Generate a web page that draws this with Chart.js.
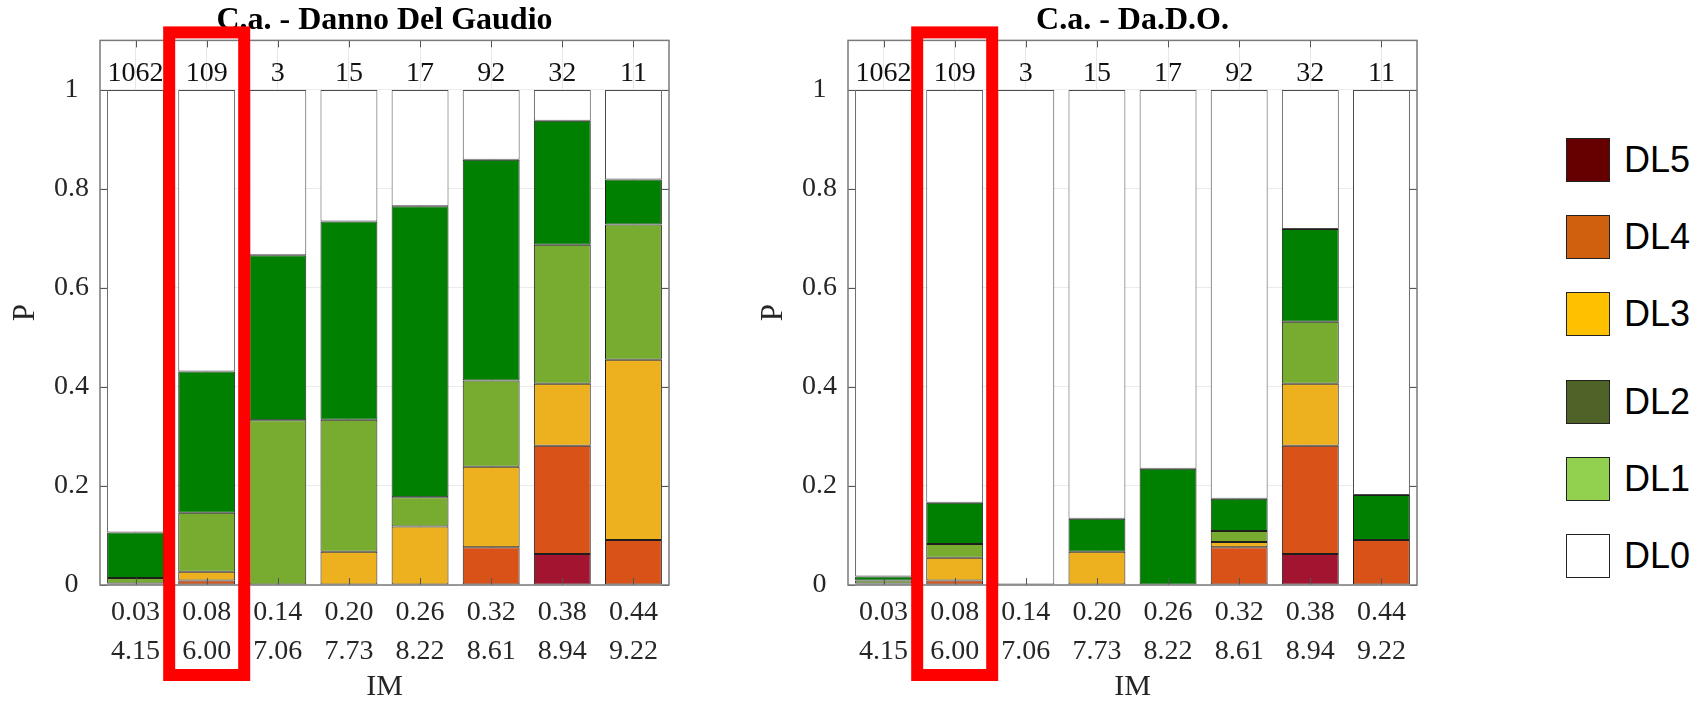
<!DOCTYPE html>
<html>
<head>
<meta charset="utf-8">
<title>C.a. damage level distributions</title>
<script src="https://cdn.jsdelivr.net/npm/chart.js@4.4.1/dist/chart.umd.min.js"></script>
<style>
  html, body { margin: 0; padding: 0; background: #fff; overflow: hidden; }
  body { width: 1699px; height: 702px; position: relative; }
  .panel { position: absolute; top: 0; }
  #legend {
    position: absolute; left: 1566px; top: 138px;
    display: flex; flex-direction: column; gap: 33px;
    font-family: "Liberation Sans", Arial, sans-serif; font-size: 36px; color: #000;
  }
  .item { display: flex; align-items: center; height: 44px; white-space: nowrap; }
  .item.gap { margin-top: 11px; }
  .swatch { width: 44px; height: 44px; box-sizing: border-box; border: 1.5px solid #222; margin-right: 14px; }
</style>
</head>
<body>
<canvas id="gaudio" class="panel" style="left:0px" width="720" height="702"></canvas>
<canvas id="dado" class="panel" style="left:748px" width="720" height="702"></canvas>
<div id="legend"></div>

<script>
// IM classes: PGA value (first line) and second intensity measure (second line)
const imPga    = ['0.03', '0.08', '0.14', '0.20', '0.26', '0.32', '0.38', '0.44'];
const imSecond = ['4.15', '6.00', '7.06', '7.73', '8.22', '8.61', '8.94', '9.22'];
// number of buildings in each IM class
const sampleCounts = [1062, 109, 3, 15, 17, 92, 32, 11];
const yTickValues = [0, 0.2, 0.4, 0.6, 0.8, 1];
const highlightIndex = 1;

// damage levels, listed from the bottom of each stack upwards
const damageLevels = ['DL5', 'DL4', 'DL3', 'DL2', 'DL1', 'DL0'];
const barColors    = ['#a2142f', '#d95319', '#edb120', '#77ac30', '#008000', '#ffffff'];
const legendColors = ['#660000', '#d0600e', '#ffc000', '#4f6228', '#92d050', '#ffffff'];

// Danno Del Gaudio: probability of each damage level per IM class
const gaudioDL5 = [0,     0,     0,     0,     0,     0,     0.0625, 0];
const gaudioDL4 = [0.001, 0.009, 0,     0,     0,     0.076, 0.219,  0.091];
const gaudioDL3 = [0.002, 0.018, 0,     0.067, 0.118, 0.163, 0.125,  0.364];
const gaudioDL2 = [0.011, 0.119, 0.333, 0.267, 0.059, 0.174, 0.281,  0.273];
const gaudioDL1 = [0.092, 0.285, 0.333, 0.400, 0.588, 0.446, 0.250,  0.091];
const gaudioDL0 = [0.894, 0.569, 0.334, 0.266, 0.235, 0.141, 0.0625, 0.181];

// Da.D.O.: probability of each damage level per IM class
const dadoDL5 = [0,     0,     0, 0,     0,     0,     0.0625, 0];
const dadoDL4 = [0.001, 0.009, 0, 0,     0,     0.076, 0.219,  0.091];
const dadoDL3 = [0.002, 0.046, 0, 0.067, 0,     0.011, 0.125,  0];
const dadoDL2 = [0.006, 0.028, 0, 0,     0,     0.022, 0.125,  0];
const dadoDL1 = [0.008, 0.083, 0, 0.067, 0.235, 0.065, 0.1875, 0.091];
const dadoDL0 = [0.983, 0.834, 1, 0.866, 0.765, 0.826, 0.281,  0.818];

const SERIF = '"Liberation Serif", "Times New Roman", serif';
const TEXT = '#262626';

// box around the axes with inward tick marks, drawn above the bars
const frameAndTicks = {
  id: 'frameAndTicks',
  afterDatasetsDraw(chart) {
    const { ctx, chartArea: a, scales: { x, y } } = chart;
    const len = 7;
    ctx.save();
    ctx.strokeStyle = '#555';
    ctx.lineWidth = 1;
    ctx.beginPath();
    y.ticks.forEach(t => {
      const py = Math.round(y.getPixelForValue(t.value)) + 0.5;
      ctx.moveTo(a.left, py); ctx.lineTo(a.left + len, py);
      ctx.moveTo(a.right, py); ctx.lineTo(a.right - len, py);
    });
    x.ticks.forEach((t, i) => {
      const px = Math.round(x.getPixelForValue(i)) + 0.5;
      ctx.moveTo(px, a.bottom); ctx.lineTo(px, a.bottom - len);
      ctx.moveTo(px, a.top); ctx.lineTo(px, a.top + len);
    });
    ctx.stroke();
    ctx.strokeStyle = '#7a7a7a';
    ctx.lineWidth = 1.5;
    ctx.strokeRect(a.left, a.top, a.right - a.left, a.bottom - a.top);
    ctx.restore();
  }
};

// building counts written above each column
const countLabels = {
  id: 'countLabels',
  afterDatasetsDraw(chart) {
    const { ctx, scales: { x, y } } = chart;
    ctx.save();
    ctx.font = '28px ' + SERIF;
    ctx.fillStyle = '#111';
    ctx.textAlign = 'center';
    ctx.textBaseline = 'middle';
    sampleCounts.forEach((n, i) => {
      ctx.fillText(String(n), x.getPixelForValue(i), y.getPixelForValue(1.033));
    });
    ctx.restore();
  }
};

// red frame around the highlighted IM class
const highlightFrame = {
  id: 'highlightFrame',
  afterDraw(chart) {
    const { ctx, chartArea: a, scales: { x } } = chart;
    const cx = x.getPixelForValue(highlightIndex);
    ctx.save();
    ctx.strokeStyle = '#ff0000';
    ctx.lineWidth = 12;
    ctx.strokeRect(cx - 37.5, a.top - 8, 75, a.bottom - a.top + 98);
    ctx.restore();
  }
};

function buildDatasets(series) {
  return damageLevels.map((name, k) => ({
    label: name,
    data: series[k].map(v => (v > 0 ? v : null)),
    backgroundColor: barColors[k],
    borderColor: k === 5 ? '#4a4a4a' : '#1e1e1e',
    borderWidth: 1,
    borderSkipped: false,
    barPercentage: 0.8,
    categoryPercentage: 1.0
  }));
}

function makeChart(id, title, series) {
  return new Chart(document.getElementById(id), {
    type: 'bar',
    data: {
      labels: imPga.map((p, i) => [p, imSecond[i]]),
      datasets: buildDatasets(series)
    },
    options: {
      responsive: false,
      animation: false,
      events: [],
      layout: { padding: { left: 0, right: 51, top: 0, bottom: 0 } },
      plugins: {
        legend: { display: false },
        tooltip: { enabled: false },
        title: {
          display: true,
          text: title,
          fullSize: false,
          color: '#000',
          font: { family: SERIF, size: 32, weight: 'bold', lineHeight: 1.2 },
          padding: { top: 2, bottom: 0 }
        }
      },
      scales: {
        x: {
          stacked: true,
          grid: { offset: false, color: '#e8e8e8', drawTicks: false },
          border: { display: false },
          ticks: {
            color: TEXT, autoSkip: false, maxRotation: 0, padding: 8,
            font: { family: SERIF, size: 28, lineHeight: 1.39 }
          },
          title: {
            display: true, text: 'IM', color: TEXT,
            font: { family: SERIF, size: 30, lineHeight: 1 },
            padding: { top: 0, bottom: 0 }
          },
          afterFit(scale) { scale.height = 117; }
        },
        y: {
          stacked: true,
          min: 0,
          max: 1.1,
          grid: { color: '#ebebeb', drawTicks: false },
          border: { display: false },
          afterBuildTicks(scale) { scale.ticks = yTickValues.map(v => ({ value: v })); },
          ticks: {
            color: TEXT, crossAlign: 'center', padding: 11,
            font: { family: SERIF, size: 28 },
            callback: v => String(Number(Number(v).toFixed(1)))
          },
          title: {
            display: true, text: 'P', color: TEXT,
            font: { family: SERIF, size: 31, lineHeight: 1.2 },
            padding: { top: 7, bottom: 0 }
          },
          afterFit(scale) { scale.width = 100; }
        }
      }
    },
    plugins: [frameAndTicks, countLabels, highlightFrame]
  });
}

makeChart('gaudio', 'C.a. - Danno Del Gaudio',
  [gaudioDL5, gaudioDL4, gaudioDL3, gaudioDL2, gaudioDL1, gaudioDL0]);
makeChart('dado', 'C.a. - Da.D.O.',
  [dadoDL5, dadoDL4, dadoDL3, dadoDL2, dadoDL1, dadoDL0]);

// legend, listed from the highest damage level down
const legend = document.getElementById('legend');
damageLevels.forEach((name, k) => {
  const item = document.createElement('div');
  item.className = 'item' + (name === 'DL2' ? ' gap' : '');
  const sw = document.createElement('div');
  sw.className = 'swatch';
  sw.style.background = legendColors[k];
  const label = document.createElement('span');
  label.textContent = name;
  item.appendChild(sw);
  item.appendChild(label);
  legend.appendChild(item);
});
</script>
</body>
</html>
